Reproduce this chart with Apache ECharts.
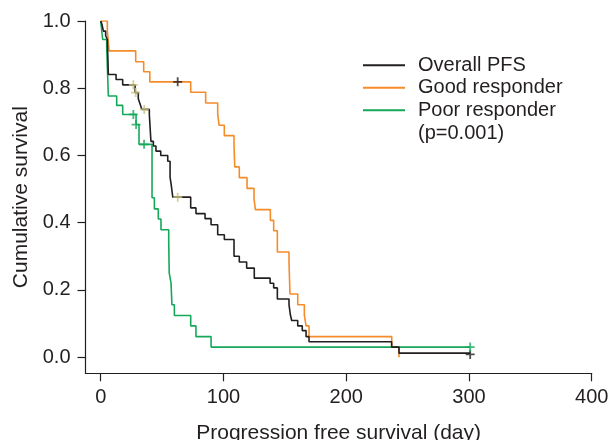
<!DOCTYPE html>
<html>
<head>
<meta charset="utf-8">
<script src="https://cdn.jsdelivr.net/npm/echarts@6/dist/echarts.min.js"></script>
<style>
  html, body { margin: 0; padding: 0; background: #fff; }
  #chart { width: 611px; height: 440px; }
</style>
</head>
<body>
<div id="chart"></div>
<script>
// Kaplan-Meier step points: [day, cumulative survival]
var overallPFS = [
  [0, 1.0], [1, 0.99], [2.2, 0.97], [4, 0.957], [5.4, 0.945], [6.2, 0.841],
  [12.5, 0.826], [17.9, 0.810], [28, 0.787], [30.6, 0.769], [32, 0.754],
  [33.5, 0.737], [39.6, 0.722], [40.9, 0.642], [42.9, 0.628], [45, 0.613],
  [48.9, 0.600], [54.6, 0.583], [56.5, 0.535], [57.3, 0.516], [58.7, 0.476],
  [73.3, 0.444], [77.6, 0.427], [85, 0.412], [89.9, 0.394], [95.3, 0.364],
  [100.7, 0.350], [108.6, 0.300], [112.9, 0.283], [118.9, 0.265],
  [125.1, 0.235], [138, 0.220], [140.9, 0.206], [143.9, 0.173],
  [153.4, 0.156], [154.5, 0.126], [155.6, 0.109], [160.5, 0.093],
  [164.2, 0.079], [167.3, 0.061], [169.7, 0.046], [237, 0.030],
  [243, 0.012], [301, 0.012]
];
var goodResponder = [
  [0, 1.0], [5.4, 0.97], [6.8, 0.911], [28.5, 0.879], [35, 0.849],
  [40, 0.819], [73.3, 0.788], [85.5, 0.756], [95.3, 0.724], [96.4, 0.690],
  [100.7, 0.659], [108.6, 0.630], [109.2, 0.566], [112.9, 0.534],
  [119.2, 0.502], [124.9, 0.471], [126, 0.439], [138.2, 0.407],
  [140.9, 0.376], [143.9, 0.313], [153.4, 0.282], [154.2, 0.188],
  [160.5, 0.156], [165.9, 0.124], [167.3, 0.093], [169.7, 0.061],
  [237.1, 0.030], [243, 0.0]
];
var poorResponder = [
  [0, 1.0], [1.6, 0.945], [4.9, 0.92], [6.2, 0.777], [13, 0.749],
  [17.9, 0.722], [28.8, 0.692], [31.2, 0.633], [41.8, 0.474], [43.7, 0.441],
  [46.9, 0.411], [49.1, 0.379], [55.4, 0.343], [55.8, 0.251], [57.3, 0.220],
  [58, 0.156], [60, 0.124], [73.3, 0.093], [77.6, 0.061], [89.9, 0.030],
  [301, 0.030]
];

// censored observations (+ marks)
var overallCensor = [[26.6, 0.810], [28.5, 0.787], [35.5, 0.737], [62.7, 0.476]];
var overallEndCensor = [[301, 0.008]];
var goodCensor = [[62.7, 0.819]];
var poorCensor = [[26.6, 0.722], [28.8, 0.692], [35.3, 0.633], [301, 0.030]];

var seriesNames = ['Overall PFS', 'Good responder', 'Poor responder'];
var xTicks = [0, 100, 200, 300, 400];
var yTicks = [0, 0.2, 0.4, 0.6, 0.8, 1.0];

var colBlack = '#231f20';
var colOrange = '#f68b2a';
var colGreen = '#16a85a';
var colKhaki = '#cbc27e';
var font = 'Liberation Sans, Arial, sans-serif';
var plus = 'path://M4,0h2v4h4v2h-4v4h-2v-4h-4v-2h4z';

function kmLine(name, data, color) {
  return {
    name: name,
    type: 'line',
    step: 'end',
    data: data,
    showSymbol: false,
    symbol: 'none',
    color: color,
    lineStyle: { color: color, width: 1.6 },
    z: 2
  };
}

function censor(data, color) {
  return {
    type: 'scatter',
    data: data,
    symbol: plus,
    symbolSize: 9,
    itemStyle: { color: color },
    silent: true,
    z: 3
  };
}

var chart = echarts.init(document.getElementById('chart'));
chart.setOption({
  animation: false,
  backgroundColor: '#fff',
  textStyle: { fontFamily: font },
  grid: { left: 85.5, right: 19.3, top: 21, bottom: 66.7, containLabel: false, outerBoundsMode: 'none' },
  legend: {
    data: seriesNames,
    orient: 'vertical',
    left: 358,
    top: 49,
    icon: 'rect',
    itemWidth: 42,
    itemHeight: 2,
    itemGap: 0,
    textStyle: { fontFamily: font, fontSize: 20, color: '#231f20', lineHeight: 22.5, padding: [0, 0, 0, 8] }
  },
  graphic: [{
    type: 'text',
    left: 418,
    top: 123,
    style: { text: '(p=0.001)', font: '20px ' + font, fill: '#231f20' }
  }],
  xAxis: {
    type: 'value',
    min: -12.4,
    max: 400,
    name: 'Progression free survival (day)',
    nameLocation: 'middle',
    nameGap: 49,
    nameTextStyle: { fontSize: 21, color: '#231f20', fontFamily: font },
    axisLine: { show: true, onZero: false, lineStyle: { color: colBlack, width: 1.2 } },
    axisTick: { show: true, length: 8, customValues: xTicks, lineStyle: { color: colBlack, width: 1.2 } },
    axisLabel: { customValues: xTicks, margin: 14, fontSize: 20, color: '#231f20', fontFamily: font },
    splitLine: { show: false }
  },
  yAxis: {
    type: 'value',
    min: -0.048,
    max: 1.0,
    name: 'Cumulative survival',
    nameLocation: 'middle',
    nameGap: 52,
    nameTextStyle: { fontSize: 21, color: '#231f20', fontFamily: font },
    axisLine: { show: true, onZero: false, lineStyle: { color: colBlack, width: 1.2 } },
    axisTick: { show: true, length: 8, customValues: yTicks, lineStyle: { color: colBlack, width: 1.2 } },
    axisLabel: {
      customValues: yTicks,
      margin: 15,
      fontSize: 20,
      color: '#231f20',
      fontFamily: font,
      formatter: function (v) { return v.toFixed(1); }
    },
    splitLine: { show: false }
  },
  series: [
    kmLine(seriesNames[1], goodResponder, colOrange),
    kmLine(seriesNames[2], poorResponder, colGreen),
    kmLine(seriesNames[0], overallPFS, colBlack),
    censor(overallCensor, colKhaki),
    censor(overallEndCensor, colBlack),
    censor(goodCensor, colBlack),
    censor(poorCensor, colGreen)
  ]
});
</script>
</body>
</html>
